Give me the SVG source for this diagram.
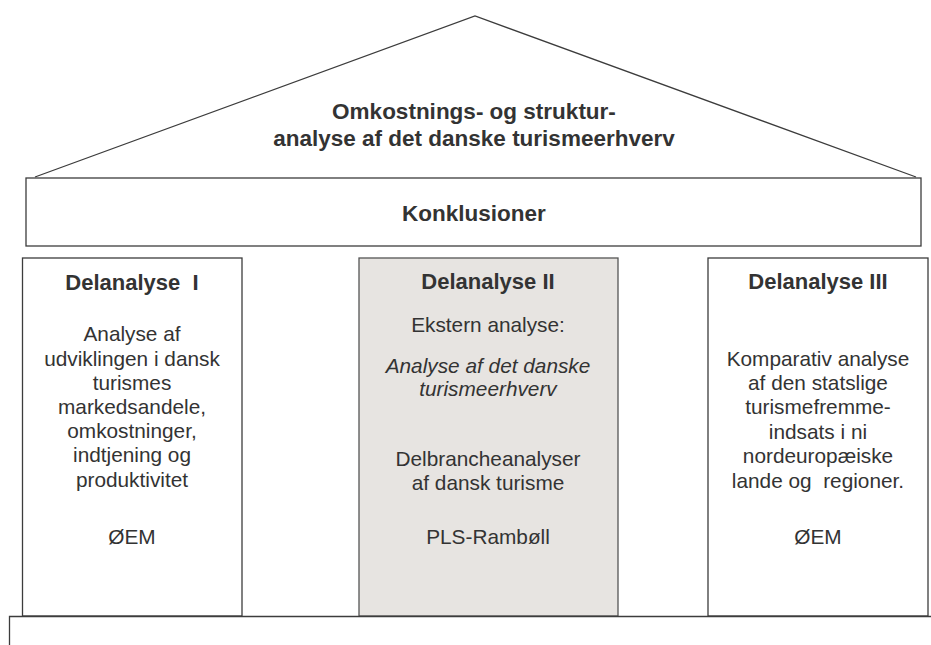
<svg xmlns="http://www.w3.org/2000/svg" width="931" height="645" viewBox="0 0 931 645">
<style>
.ln{fill:none;stroke:#3c3c3c;stroke-width:1.3}
.bx{fill:#ffffff;stroke:#3c3c3c;stroke-width:1.3}
.gr{fill:#e7e4e1;stroke:#555;stroke-width:1.3}
text{font-family:"Liberation Sans",Arial,sans-serif;fill:#333;text-anchor:middle}
.t{font-size:22.5px;font-weight:bold}
.h{font-size:22px;font-weight:bold}
.b{font-size:20.8px}
.i{font-style:italic}
</style>
<rect width="931" height="645" fill="#fff"/>
<g id="roof">
<polyline class="ln" points="35,177 475,16 916,177"/>
<text class="t" x="474" y="119">Omkostnings- og struktur-</text>
<text class="t" x="474" y="146">analyse af det danske turismeerhverv</text>
</g>
<g id="konklusioner">
<rect class="bx" x="26" y="178" width="895" height="68"/>
<text class="t" x="474" y="221">Konklusioner</text>
</g>
<g id="delanalyse1">
<rect class="bx" x="22.5" y="258" width="219.5" height="358"/>
<text class="h" x="132" y="290" xml:space="preserve">Delanalyse  I</text>
<text class="b" x="132" y="341">Analyse af</text>
<text class="b" x="132" y="365.5">udviklingen i dansk</text>
<text class="b" x="132" y="390">turismes</text>
<text class="b" x="132" y="414">markedsandele,</text>
<text class="b" x="132" y="438">omkostninger,</text>
<text class="b" x="132" y="462">indtjening og</text>
<text class="b" x="132" y="486.5">produktivitet</text>
<text class="b" x="132" y="544">ØEM</text>
</g>
<g id="delanalyse2">
<rect class="gr" x="359" y="258" width="259" height="358"/>
<text class="h" x="488" y="289">Delanalyse II</text>
<text class="b" x="488" y="332">Ekstern analyse:</text>
<text class="b i" x="488" y="373">Analyse af det danske</text>
<text class="b i" x="488" y="396">turismeerhverv</text>
<text class="b" x="488" y="466">Delbrancheanalyser</text>
<text class="b" x="488" y="490">af dansk turisme</text>
<text class="b" x="488" y="544">PLS-Rambøll</text>
</g>
<g id="delanalyse3">
<rect class="bx" x="708" y="258" width="220" height="358"/>
<text class="h" x="818" y="289">Delanalyse III</text>
<text class="b" x="818" y="365.5">Komparativ analyse</text>
<text class="b" x="818" y="390">af den statslige</text>
<text class="b" x="818" y="414">turismefremme-</text>
<text class="b" x="818" y="438.5">indsats i ni</text>
<text class="b" x="818" y="463">nordeuropæiske</text>
<text class="b" x="818" y="488" xml:space="preserve">lande og  regioner.</text>
<text class="b" x="818" y="544">ØEM</text>
</g>
<g id="connectors">
<polyline class="ln" points="9.5,645 9.5,616.5 931,616.5"/>
</g>
</svg>
